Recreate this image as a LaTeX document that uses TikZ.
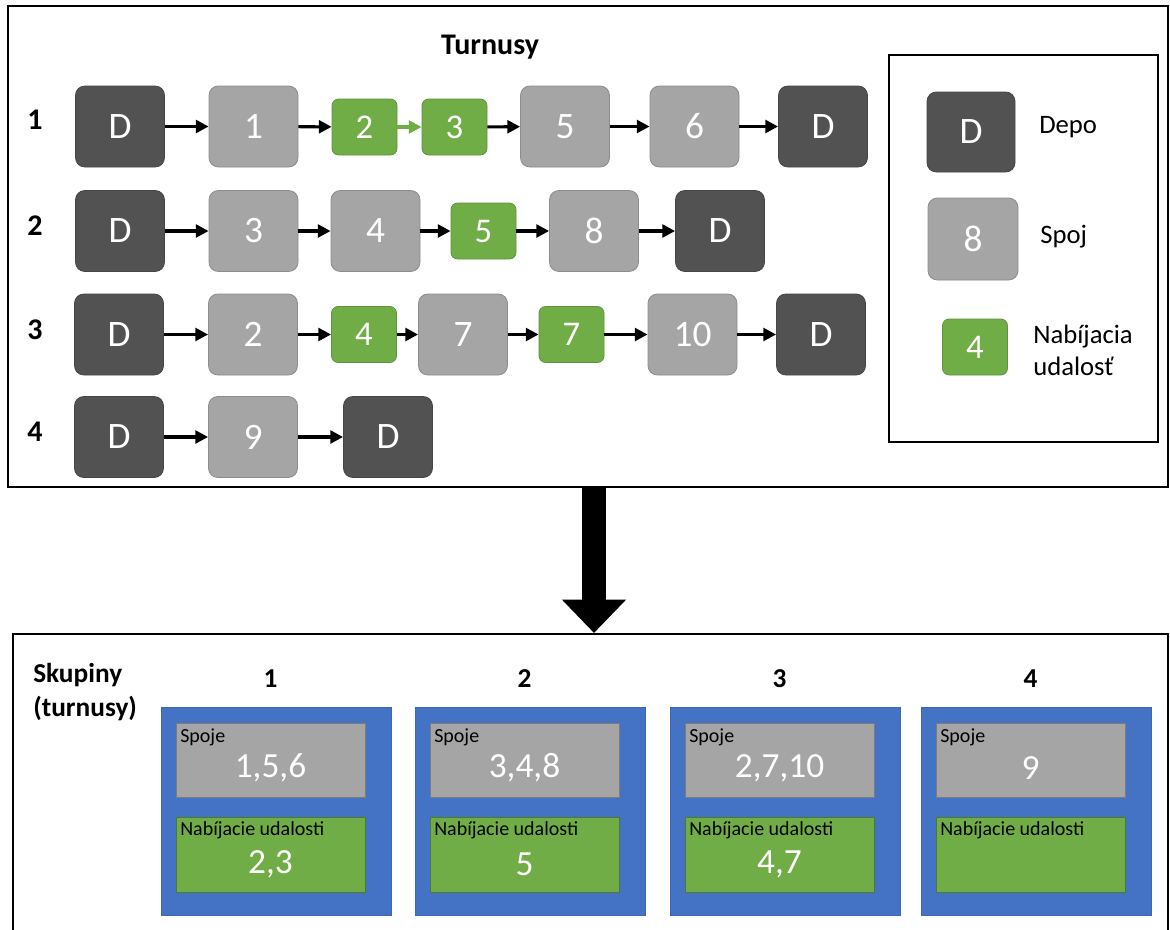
\documentclass[tikz,border=0pt]{standalone}
\usepackage{fontspec}
\setmainfont{Carlito}
\usetikzlibrary{arrows.meta}
\newcommand\pxu{0.75pt}
\definecolor{depotc}{HTML}{525252}
\definecolor{spojc}{HTML}{A5A5A5}
\definecolor{nabc}{HTML}{70AD47}
\definecolor{bluec}{HTML}{4472C4}
\begin{document}
\begin{tikzpicture}[x=0.75pt,y=-0.75pt,
 base/.style={rectangle, rounded corners=7pt, text=white, font=\fontsize{28}{30}\selectfont, inner sep=0pt, line width=0.6pt},
 depot/.style={base, fill=depotc, draw=depotc!85!black, minimum width=89*\pxu, minimum height=81*\pxu},
 spojbox/.style={base, fill=spojc, draw=spojc!85!black, minimum width=89*\pxu, minimum height=81*\pxu},
 nabbox/.style={base, rounded corners=5pt, font=\fontsize{26}{28}\selectfont, fill=nabc, draw=nabc!85!black, minimum width=65*\pxu, minimum height=56*\pxu},
 link/.style={-{Triangle[length=9.5pt,width=9.5pt]}, line width=2.3pt},
 greenlink/.style={link, draw=nabc},
 rowlbl/.style={font=\fontsize{22.5}{24}\selectfont\bfseries, inner sep=0pt},
 title/.style={font=\fontsize{22.5}{26}\selectfont\bfseries, inner sep=0pt},
 hdr/.style={font=\fontsize{20.5}{24}\selectfont\bfseries, inner sep=0pt},
 legtxt/.style={font=\fontsize{20}{24}\selectfont, inner sep=0pt, anchor=west, align=left},
 frame/.style={rectangle, draw=black, line width=1.5pt, inner sep=0pt},
 grp/.style={rectangle, fill=bluec, draw=bluec!90!black, line width=0.4pt, inner sep=0pt, minimum width=230*\pxu, minimum height=208*\pxu},
 ingray/.style={rectangle, fill=spojc, draw=spojc!75!black, line width=0.6pt, inner sep=0pt, minimum width=189*\pxu, minimum height=74*\pxu},
 ingreen/.style={rectangle, fill=nabc, draw=nabc!70!black, line width=0.6pt, inner sep=0pt, minimum width=189*\pxu, minimum height=75*\pxu},
 smalltxt/.style={font=\fontsize{15}{17}\selectfont, inner sep=0pt, anchor=west},
 bigval/.style={font=\fontsize{26.5}{28}\selectfont, text=white, inner sep=0pt},
]
\useasboundingbox (0,0) rectangle (1170,929);
\fill[white] (0,0) rectangle (1170,929);

% frames
\node[frame, minimum width=1160*\pxu, minimum height=481*\pxu] (topframe) at (588,246.5) {};
\node[frame, minimum width=1155*\pxu, minimum height=310*\pxu] (botframe) at (590.5,789) {};

\node[title] (ttl) at (490,47) {Turnusy};

% row labels
\node[rowlbl] (r1) at (35,120) {1};
\node[rowlbl] (r2) at (35,226) {2};
\node[rowlbl] (r3) at (35,330) {3};
\node[rowlbl] (r4) at (35,432) {4};

% row 1
\node[depot]   (a0) at (120,126.5) {D};
\node[spojbox] (a1) at (253.5,126.5) {1};
\node[nabbox]  (a2) at (364.5,127) {2};
\node[nabbox]  (a3) at (454.5,127) {3};
\node[spojbox] (a4) at (565,126.5) {5};
\node[spojbox] (a5) at (694.5,126.5) {6};
\node[depot]   (a6) at (823,126.5) {D};
\draw[link] (a0) -- (a1);
\draw[link] (a1) -- (a2);
\draw[greenlink] (a2) -- (a3);
\draw[link] (a3) -- (a4);
\draw[link] (a4) -- (a5);
\draw[link] (a5) -- (a6);

% row 2
\node[depot]   (b0) at (120,231) {D};
\node[spojbox] (b1) at (253.5,231) {3};
\node[spojbox] (b2) at (375.5,231) {4};
\node[nabbox]  (b3) at (483.5,231) {5};
\node[spojbox] (b4) at (594,231) {8};
\node[depot]   (b5) at (720,231) {D};
\draw[link] (b0) -- (b1);
\draw[link] (b1) -- (b2);
\draw[link] (b2) -- (b3);
\draw[link] (b3) -- (b4);
\draw[link] (b4) -- (b5);

% row 3
\node[depot]   (c0) at (119,334.5) {D};
\node[spojbox] (c1) at (253,334.5) {2};
\node[nabbox]  (c2) at (364,334.5) {4};
\node[spojbox] (c3) at (463,334.5) {7};
\node[nabbox]  (c4) at (571.5,334.5) {7};
\node[spojbox] (c5) at (692.5,334.5) {10};
\node[depot]   (c6) at (821,334.5) {D};
\draw[link] (c0) -- (c1);
\draw[link] (c1) -- (c2);
\draw[link] (c2) -- (c3);
\draw[link] (c3) -- (c4);
\draw[link] (c4) -- (c5);
\draw[link] (c5) -- (c6);

% row 4
\node[depot]   (d0) at (119,437) {D};
\node[spojbox] (d1) at (253,437) {9};
\node[depot]   (d2) at (388,437) {D};
\draw[link] (d0) -- (d1);
\draw[link] (d1) -- (d2);

% legend
\node[frame, minimum width=269*\pxu, minimum height=387*\pxu] (legend) at (1023.5,248.5) {};
\node[depot, minimum width=88*\pxu, minimum height=80*\pxu] (lg1) at (971,132) {D};
\node[legtxt] (lt1) at (1039,127) {Depo};
\node[spojbox, minimum width=90*\pxu, minimum height=82*\pxu] (lg2) at (973,239) {8};
\node[legtxt] (lt2) at (1040,237) {Spoj};
\node[nabbox] (lg3) at (975,347) {4};
\node[legtxt] (lt3) at (1033,350) {Nabíjacia\\udalosť};

% big arrow
\draw[line width=18pt, -{Triangle[length=25pt,width=46.5pt]}] (topframe.south -| 594,0) -- (botframe.north -| 594,0);

% bottom
\node[hdr, anchor=west, align=left, font=\fontsize{20.5}{26}\selectfont\bfseries] (skup) at (33,692) {Skupiny\\(turnusy)};

\foreach \i/\x/\sp/\nb in {1/161/{1,5,6}/{2,3}, 2/415/{3,4,8}/5, 3/670/{2,7,10}/{4,7}, 4/921/9/{}} {
  \node[grp] (g\i) at (\x+115,811) {};
  \node[ingray] (gs\i) at (\x+109.5,760) {};
  \node[ingreen] (gn\i) at (\x+109.5,854.5) {};
  \node[hdr] (gh\i) at (\x+109.5,679) {\i};
  \node[smalltxt] (gst\i) at (\x+19,737) {Spoje};
  \node[bigval] (gsv\i) at (\x+109.5,768) {\sp};
  \node[smalltxt] (gnt\i) at (\x+19,830) {Nabíjacie udalosti};
  \node[bigval] (gnv\i) at (\x+109.5,864) {\nb};
}
\end{tikzpicture}
\end{document}
